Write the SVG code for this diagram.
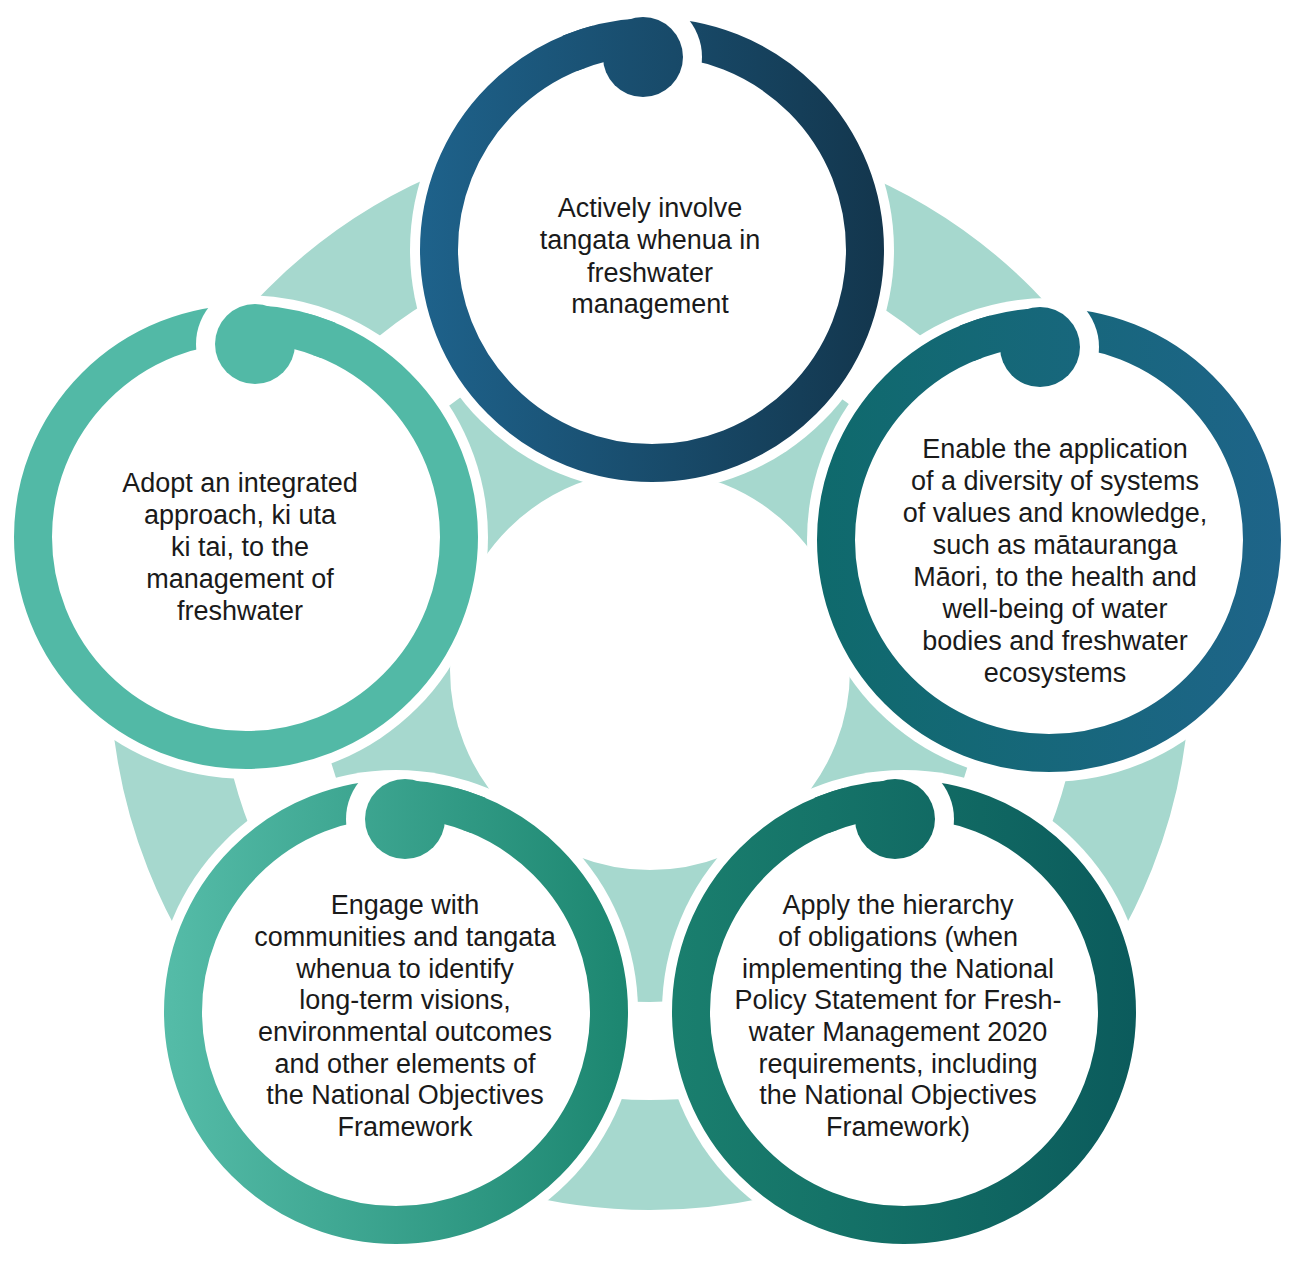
<svg xmlns="http://www.w3.org/2000/svg" width="1299" height="1265" viewBox="0 0 1299 1265">
<style>
.ring{fill:none;stroke-width:38}
.lbl{font-family:"Liberation Sans",Arial,sans-serif;font-size:27px;fill:#1a1a1a;text-anchor:middle}
.pale{fill:none;stroke:#a6d8ce}
.gapw{fill:#fff}
</style>
<defs>
<linearGradient id="gTop" gradientUnits="userSpaceOnUse" x1="-232" y1="0" x2="232" y2="0"><stop offset="0" stop-color="#1e628b"/><stop offset="1" stop-color="#13364d"/></linearGradient>
<linearGradient id="gRight" gradientUnits="userSpaceOnUse" x1="-232" y1="0" x2="232" y2="0"><stop offset="0" stop-color="#0f6a6c"/><stop offset="1" stop-color="#1e6489"/></linearGradient>
<linearGradient id="gLeft" gradientUnits="userSpaceOnUse" x1="-232" y1="0" x2="232" y2="0"><stop offset="0" stop-color="#52b9a6"/><stop offset="1" stop-color="#52b9a6"/></linearGradient>
<linearGradient id="gBL" gradientUnits="userSpaceOnUse" x1="-232" y1="0" x2="232" y2="0"><stop offset="0" stop-color="#55bca8"/><stop offset="1" stop-color="#1c8670"/></linearGradient>
<linearGradient id="gBR" gradientUnits="userSpaceOnUse" x1="-232" y1="0" x2="232" y2="0"><stop offset="0" stop-color="#1a7f6e"/><stop offset="1" stop-color="#0b5b5c"/></linearGradient>
<mask id="cutR" maskUnits="userSpaceOnUse" x="-300" y="-300" width="600" height="600">
<rect x="-300" y="-300" width="600" height="600" fill="#fff"/>
<circle cx="-9" cy="-193" r="59" fill="#000"/>
</mask>
<mask id="cutL" maskUnits="userSpaceOnUse" x="-300" y="-300" width="600" height="600">
<rect x="-300" y="-300" width="600" height="600" fill="#fff"/>
<circle cx="9" cy="-193" r="59" fill="#000"/>
</mask>
</defs>
<rect width="1299" height="1265" fill="#fff"/>
<g id="background">
<circle class="pale" cx="650" cy="670" r="266" stroke-width="132"/>
<circle class="pale" cx="650" cy="670" r="485" stroke-width="110"/>
<circle class="gapw" cx="652" cy="250" r="242"/>
<circle class="gapw" cx="1049" cy="540" r="242"/>
<circle class="gapw" cx="904" cy="1012" r="242"/>
<circle class="gapw" cx="396" cy="1012" r="242"/>
<circle class="gapw" cx="246" cy="537" r="242"/>
</g>
<g id="connectors"></g>
<g id="node-top">
<g transform="translate(652,250)">
<circle class="ring" r="213" stroke="url(#gTop)" mask="url(#cutR)"/>
<path class="ring" stroke="url(#gTop)" d="M -82.1 -196.6 A 213 213 0 0 1 -9.9 -212.8"/>
<circle cx="-9" cy="-193" r="40" fill="url(#gTop)"/>
</g>
<text class="lbl" x="650" y="217">Actively involve</text>
<text class="lbl" x="650" y="249">tangata whenua in</text>
<text class="lbl" x="650" y="282">freshwater</text>
<text class="lbl" x="650" y="313">management</text>
</g>
<g id="node-right">
<g transform="translate(1049,540)">
<circle class="ring" r="213" stroke="url(#gRight)" mask="url(#cutR)"/>
<path class="ring" stroke="url(#gRight)" d="M -82.1 -196.6 A 213 213 0 0 1 -9.9 -212.8"/>
<circle cx="-9" cy="-193" r="40" fill="url(#gRight)"/>
</g>
<text class="lbl" x="1055" y="458">Enable the application</text>
<text class="lbl" x="1055" y="490">of a diversity of systems</text>
<text class="lbl" x="1055" y="522">of values and knowledge,</text>
<text class="lbl" x="1055" y="554">such as mātauranga</text>
<text class="lbl" x="1055" y="586">Māori, to the health and</text>
<text class="lbl" x="1055" y="618">well-being of water</text>
<text class="lbl" x="1055" y="650">bodies and freshwater</text>
<text class="lbl" x="1055" y="682">ecosystems</text>
</g>
<g id="node-bottom-right">
<g transform="translate(904,1012)">
<circle class="ring" r="213" stroke="url(#gBR)" mask="url(#cutR)"/>
<path class="ring" stroke="url(#gBR)" d="M -82.1 -196.6 A 213 213 0 0 1 -9.9 -212.8"/>
<circle cx="-9" cy="-193" r="40" fill="url(#gBR)"/>
</g>
<text class="lbl" x="898" y="914">Apply the hierarchy</text>
<text class="lbl" x="898" y="946">of obligations (when</text>
<text class="lbl" x="898" y="978">implementing the National</text>
<text class="lbl" x="898" y="1009">Policy Statement for Fresh-</text>
<text class="lbl" x="898" y="1041">water Management 2020</text>
<text class="lbl" x="898" y="1073">requirements, including</text>
<text class="lbl" x="898" y="1104">the National Objectives</text>
<text class="lbl" x="898" y="1136">Framework)</text>
</g>
<g id="node-bottom-left">
<g transform="translate(396,1012)">
<circle class="ring" r="213" stroke="url(#gBL)" mask="url(#cutL)"/>
<path class="ring" stroke="url(#gBL)" d="M 9.9 -212.8 A 213 213 0 0 1 82.1 -196.6"/>
<circle cx="9" cy="-193" r="40" fill="url(#gBL)"/>
</g>
<text class="lbl" x="405" y="914">Engage with</text>
<text class="lbl" x="405" y="946">communities and tangata</text>
<text class="lbl" x="405" y="978">whenua to identify</text>
<text class="lbl" x="405" y="1009">long-term visions,</text>
<text class="lbl" x="405" y="1041">environmental outcomes</text>
<text class="lbl" x="405" y="1073">and other elements of</text>
<text class="lbl" x="405" y="1104">the National Objectives</text>
<text class="lbl" x="405" y="1136">Framework</text>
</g>
<g id="node-left">
<g transform="translate(246,537)">
<circle class="ring" r="213" stroke="url(#gLeft)" mask="url(#cutL)"/>
<path class="ring" stroke="url(#gLeft)" d="M 9.9 -212.8 A 213 213 0 0 1 82.1 -196.6"/>
<circle cx="9" cy="-193" r="40" fill="url(#gLeft)"/>
</g>
<text class="lbl" x="240" y="492">Adopt an integrated</text>
<text class="lbl" x="240" y="524">approach, ki uta</text>
<text class="lbl" x="240" y="556">ki tai, to the</text>
<text class="lbl" x="240" y="588">management of</text>
<text class="lbl" x="240" y="620">freshwater</text>
</g>
</svg>
